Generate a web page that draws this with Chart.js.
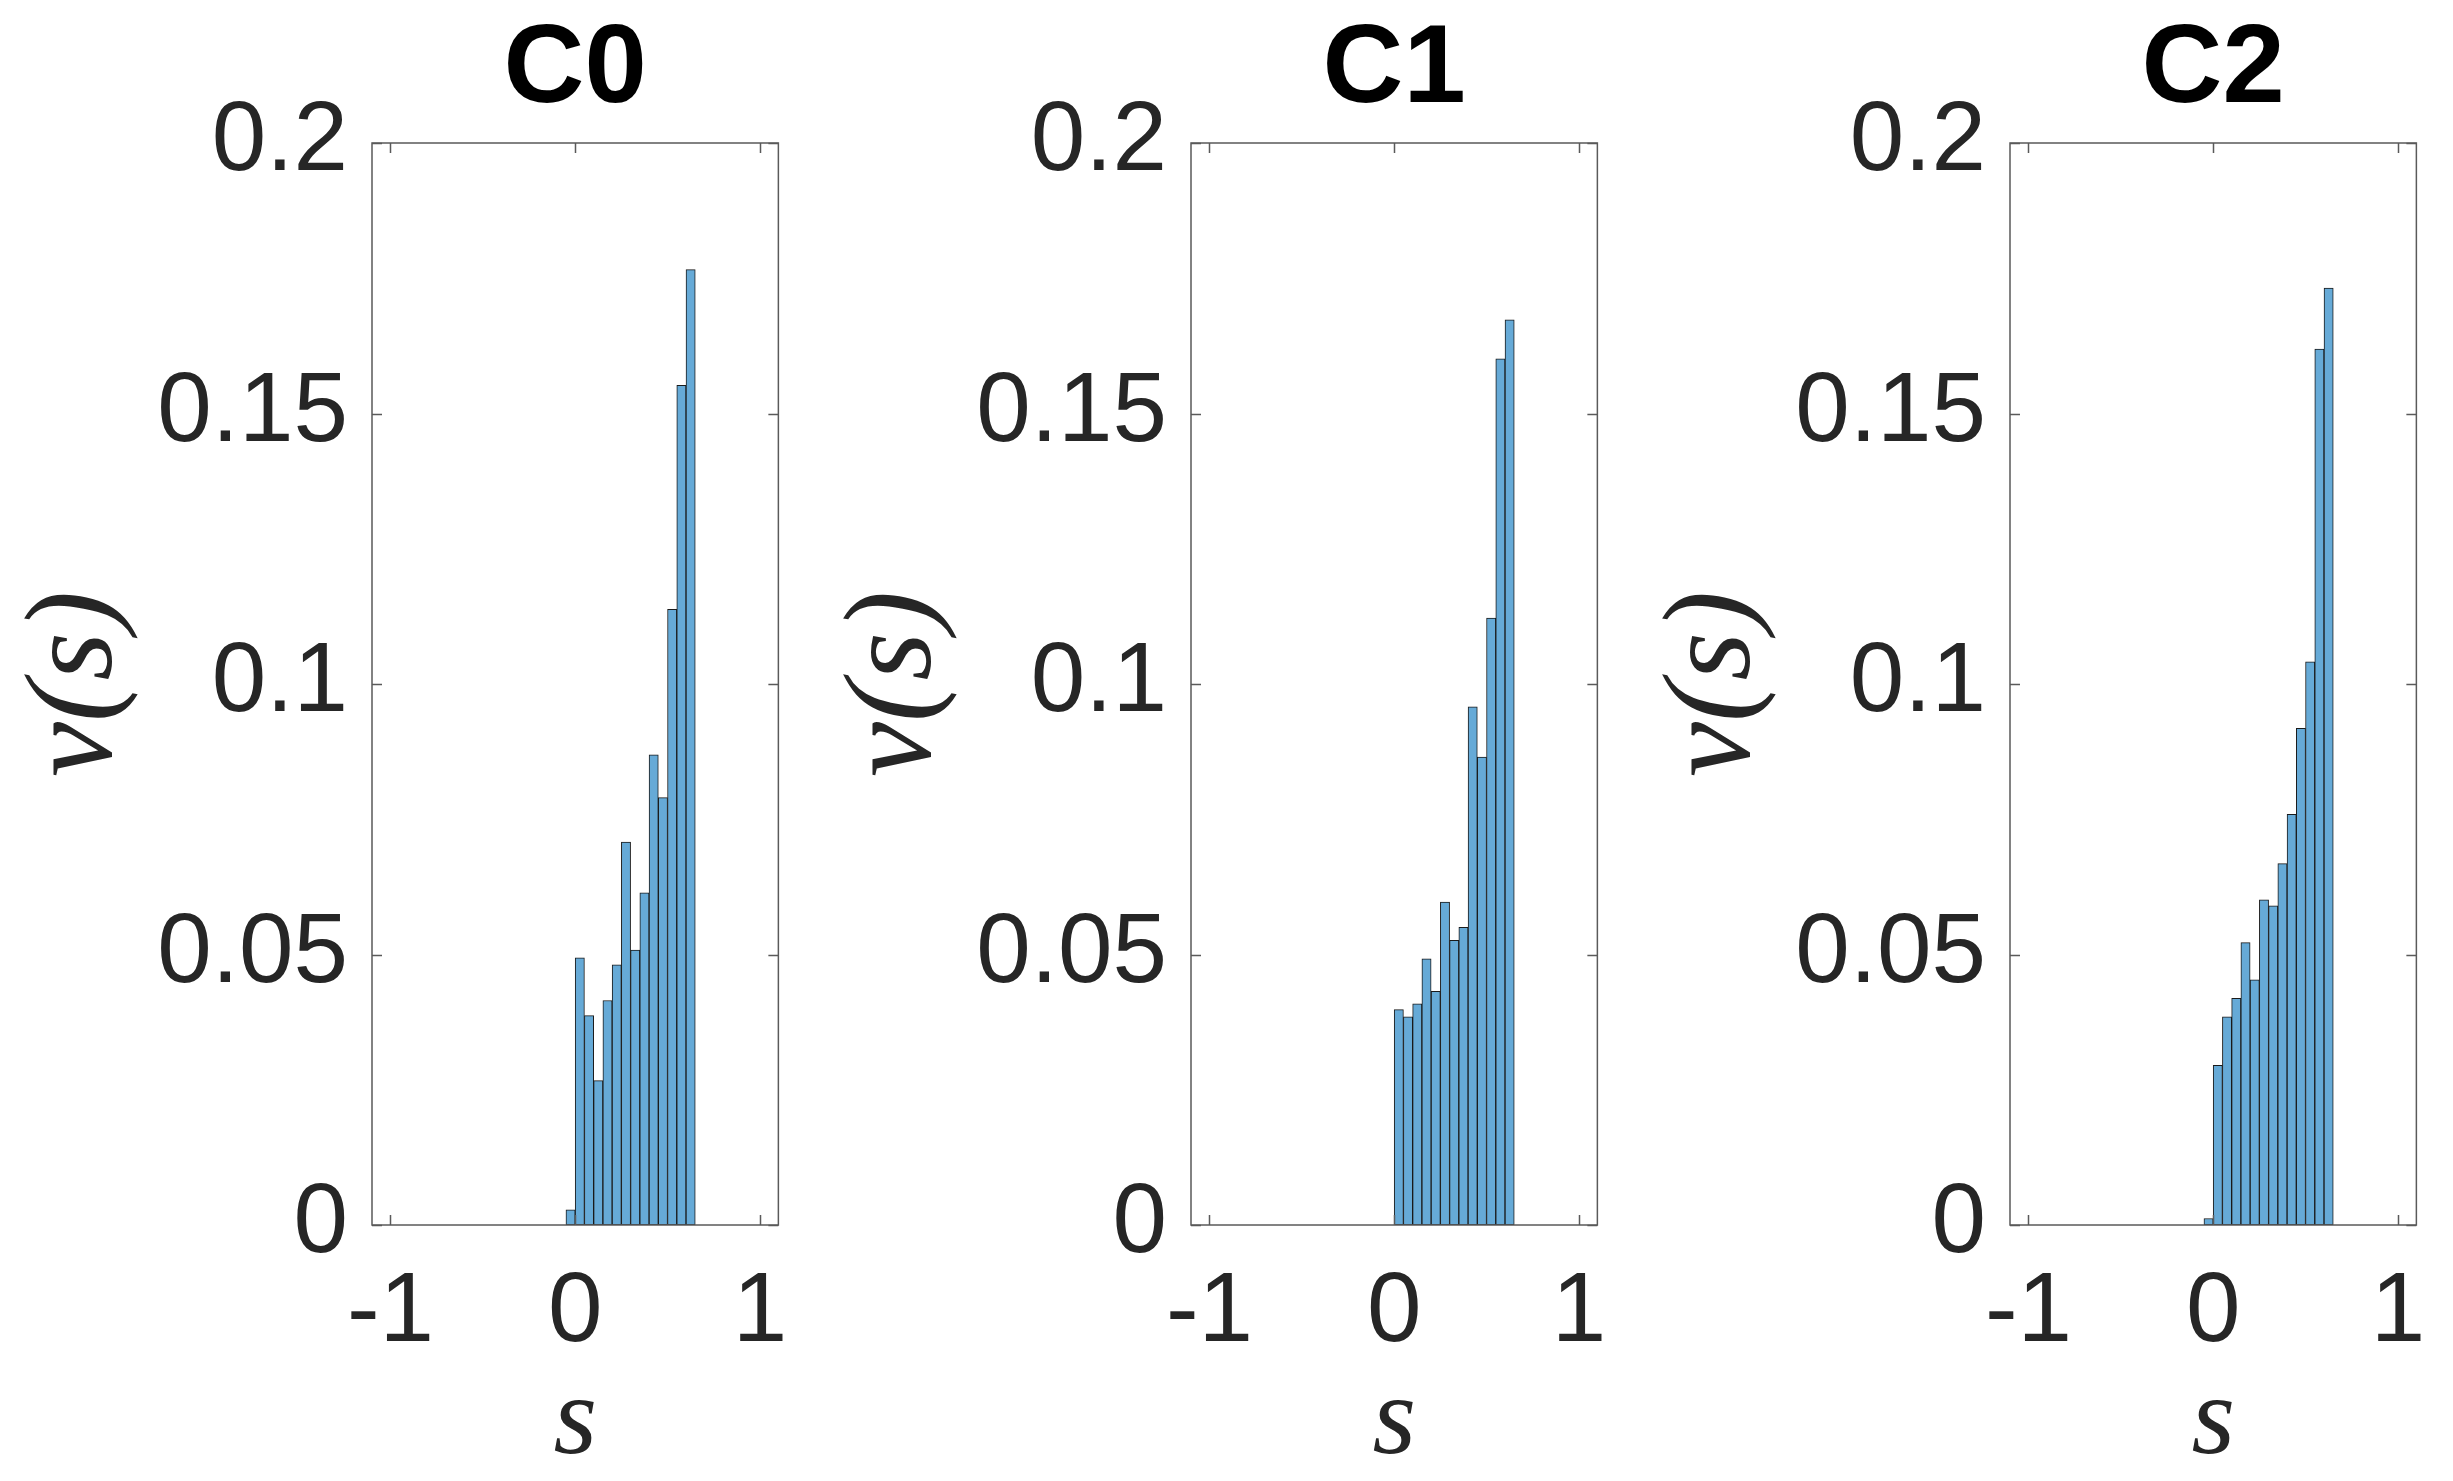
<!DOCTYPE html>
<html>
<head>
<meta charset="utf-8">
<script src="https://cdn.jsdelivr.net/npm/chart.js@4.4.1/dist/chart.umd.min.js"></script>
<style>
  html, body { margin: 0; padding: 0; background: #ffffff; overflow: hidden; }
  #wrap { position: relative; width: 2453px; height: 1481px; overflow: hidden; background: #fff; }
  canvas { position: absolute; top: 0; }
</style>
</head>
<body>
<div id="wrap">
  <canvas id="c0" width="819" height="1481" style="left:0px"></canvas>
  <canvas id="c1" width="819" height="1481" style="left:819px"></canvas>
  <canvas id="c2" width="819" height="1481" style="left:1638px"></canvas>
</div>
<script>
// ---- data ----
const panelTitles = ["C0", "C1", "C2"];
const binCenters = [-0.025, 0.025, 0.075, 0.125, 0.175, 0.225, 0.275, 0.325, 0.375, 0.425, 0.475, 0.525, 0.575, 0.625];
const valuesC0 = [0.0028, 0.0494, 0.0387, 0.0267, 0.0415, 0.0481, 0.0708, 0.0508, 0.0614, 0.0869, 0.0790, 0.1138, 0.1552, 0.1766];
const valuesC1 = [null, 0.0398, 0.0385, 0.0409, 0.0492, 0.0432, 0.0597, 0.0526, 0.0550, 0.0958, 0.0865, 0.1122, 0.1601, 0.1673];
const valuesC2 = [0.0012, 0.0295, 0.0385, 0.0419, 0.0522, 0.0453, 0.0601, 0.0590, 0.0668, 0.0759, 0.0918, 0.1041, 0.1619, 0.1732];
const xTickValues = [-1, 0, 1];
const xTickLabels = ["-1", "0", "1"];
const yTickValues = [0, 0.05, 0.1, 0.15, 0.2];
const yTickLabels = ["0", "0.05", "0.1", "0.15", "0.2"];
const xLabel = "s";
const yLabel = "ν(s)";
const allValues = [valuesC0, valuesC1, valuesC2];

// ---- style ----
const SANS = "'Liberation Sans', Arial, Helvetica, sans-serif";
const SERIF = "'Liberation Serif', 'Times New Roman', serif";
const TEXT = "#262626";
const AXIS = "#5a5a5a";
const TICK_LEN = 10;

const boxPlugin = {
  id: 'matlabBox',
  afterDatasetsDraw(chart) {
    const {ctx, chartArea: a, scales} = chart;
    ctx.save();
    ctx.strokeStyle = AXIS;
    ctx.lineWidth = 1.5;
    ctx.beginPath();
    xTickValues.forEach(v => {
      const px = Math.round(scales.x.getPixelForValue(v)) + 0.5;
      ctx.moveTo(px, a.bottom); ctx.lineTo(px, a.bottom - TICK_LEN);
      ctx.moveTo(px, a.top); ctx.lineTo(px, a.top + TICK_LEN);
    });
    yTickValues.forEach(v => {
      const py = Math.round(scales.y.getPixelForValue(v)) + 0.5;
      ctx.moveTo(a.left, py); ctx.lineTo(a.left + TICK_LEN, py);
      ctx.moveTo(a.right, py); ctx.lineTo(a.right - TICK_LEN, py);
    });
    ctx.stroke();
    ctx.strokeRect(a.left, a.top, a.right - a.left, a.bottom - a.top);
    ctx.restore();
  }
};

function makeChart(id, title, values) {
  const pts = binCenters.map((c, i) => ({x: c, y: values[i]}));
  return new Chart(document.getElementById(id), {
    type: 'bar',
    data: {
      datasets: [{
        data: pts,
        backgroundColor: '#66AAD7',
        borderColor: '#1a1a1a',
        borderWidth: 1,
        borderSkipped: false,
        barPercentage: 1,
        categoryPercentage: 1
      }]
    },
    options: {
      responsive: false,
      animation: false,
      devicePixelRatio: 1,
      layout: { padding: { left: 0, right: 36, top: 0, bottom: 1 } },
      plugins: {
        legend: { display: false },
        tooltip: { enabled: false },
        title: {
          display: true,
          fullSize: false,
          align: 'center',
          text: title,
          color: '#000000',
          font: { family: SANS, size: 112, weight: 'bold', lineHeight: 1.2 },
          padding: { top: 4, bottom: 4.6 }
        }
      },
      scales: {
        x: {
          type: 'linear',
          min: -1.1,
          max: 1.1,
          offset: false,
          grid: { display: false, drawTicks: false, tickLength: 0 },
          border: { display: false },
          afterBuildTicks: (s) => { s.ticks = xTickValues.map(v => ({value: v})); },
          afterFit: (s) => { s.height = 255; },
          ticks: {
            autoSkip: false,
            maxRotation: 0,
            minRotation: 0,
            padding: 30,
            color: TEXT,
            font: { family: SANS, size: 98 },
            callback: (v) => { const i = xTickValues.indexOf(v); return i >= 0 ? xTickLabels[i] : ''; }
          },
          title: {
            display: true,
            text: xLabel,
            color: TEXT,
            font: { family: SERIF, size: 112, style: 'italic', lineHeight: 1 },
            padding: { top: 0, bottom: 0 }
          }
        },
        y: {
          type: 'linear',
          min: 0,
          max: 0.2,
          grid: { display: false, drawTicks: false, tickLength: 0 },
          border: { display: false },
          afterBuildTicks: (s) => { s.ticks = yTickValues.map(v => ({value: v})); },
          afterFit: (s) => { s.width = 372; },
          ticks: {
            autoSkip: false,
            padding: 24,
            color: TEXT,
            font: { family: SANS, size: 98 },
            callback: (v) => { const i = yTickValues.findIndex(t => Math.abs(t - v) < 1e-9); return i >= 0 ? yTickLabels[i] : ''; }
          },
          title: {
            display: true,
            text: yLabel,
            color: TEXT,
            font: { family: SERIF, size: 124, style: 'italic', lineHeight: 1 },
            padding: { top: 16, bottom: 0 }
          }
        }
      }
    },
    plugins: [boxPlugin]
  });
}

['c0', 'c1', 'c2'].forEach((id, i) => makeChart(id, panelTitles[i], allValues[i]));
</script>
</body>
</html>
